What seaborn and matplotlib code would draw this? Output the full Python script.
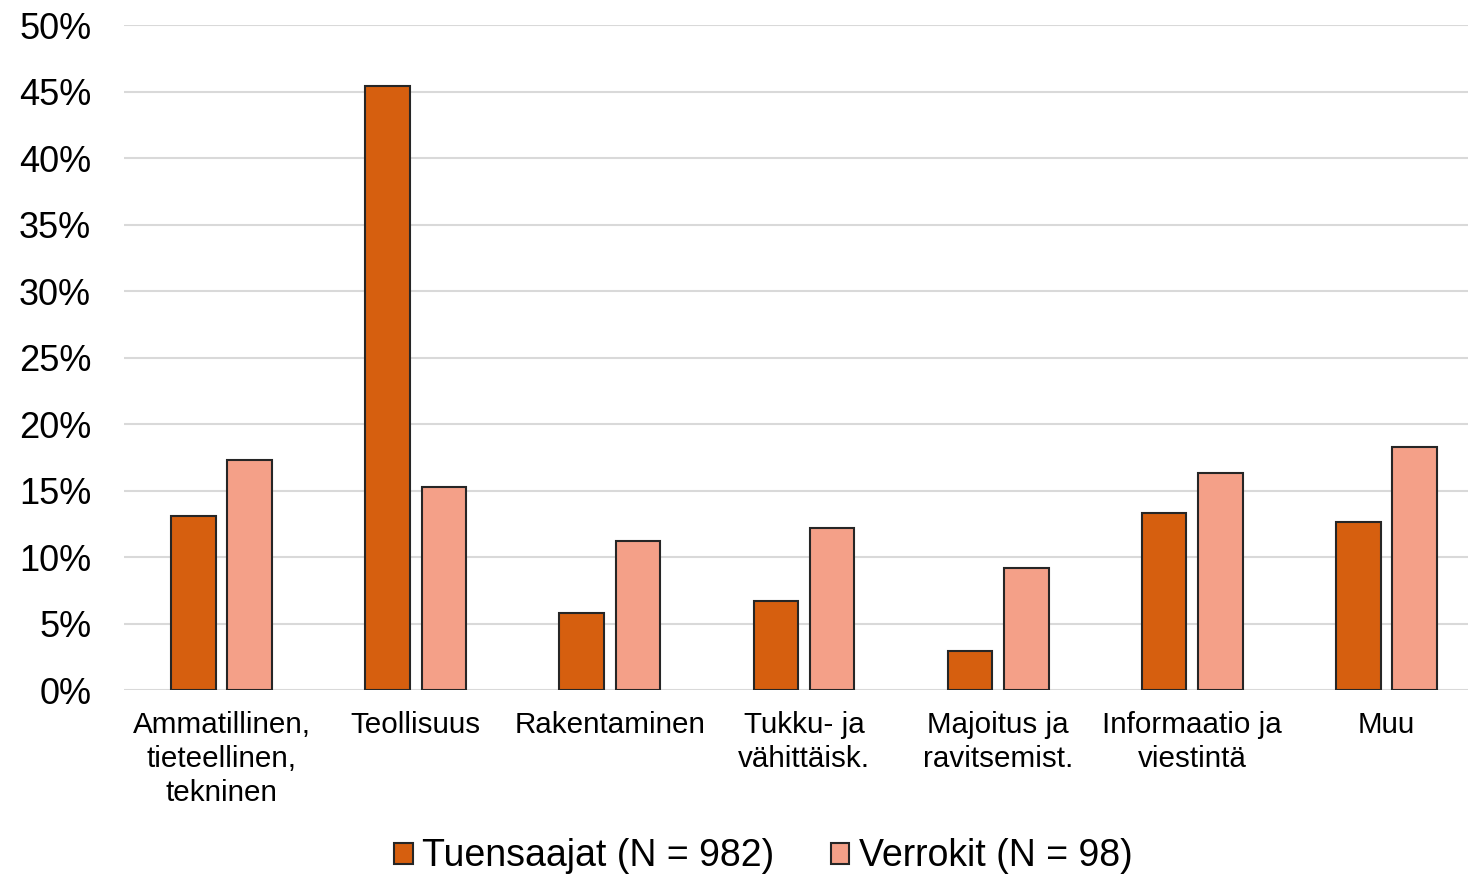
import matplotlib
matplotlib.use("Agg")
import matplotlib.pyplot as plt
from matplotlib.patches import Patch
from matplotlib.ticker import PercentFormatter
import seaborn as sns
import pandas as pd

categories = [
    "Ammatillinen,\ntieteellinen,\ntekninen",
    "Teollisuus",
    "Rakentaminen",
    "Tukku- ja\nvähittäisk.",
    "Majoitus ja\nravitsemist.",
    "Informaatio ja\nviestintä",
    "Muu",
]
series_names = ["Tuensaajat (N = 982)", "Verrokit (N = 98)"]
tuensaajat = [13.1, 45.4, 5.8, 6.7, 2.9, 13.3, 12.6]
verrokit = [17.3, 15.3, 11.2, 12.2, 9.2, 16.3, 18.3]
colors = ["#D65F0F", "#F4A088"]

df = pd.DataFrame({
    "category": categories * 2,
    "series": [series_names[0]] * len(categories) + [series_names[1]] * len(categories),
    "value": tuensaajat + verrokit,
})

sns.set_theme(style="white")
plt.rcParams["font.family"] = ["Liberation Sans", "DejaVu Sans"]
plt.rcParams["text.color"] = "black"

fig, ax = plt.subplots(figsize=(14.68, 8.75), dpi=100)
fig.subplots_adjust(left=0.0848, right=1.0, top=0.9714, bottom=0.2114)

sns.barplot(
    data=df, x="category", y="value", hue="series",
    palette=colors, saturation=1, width=0.58, gap=0.21,
    edgecolor="#262626", linewidth=1.5, ax=ax, legend=False,
)

ax.set_ylim(0, 50)
ax.set_xlim(-0.5, len(categories) - 0.58)
ax.set_yticks(range(0, 51, 5))
ax.yaxis.set_major_formatter(PercentFormatter(decimals=0))
ax.grid(axis="y", color="#D9D9D9", linewidth=1.5)
ax.set_axisbelow(True)
for s in ax.spines.values():
    s.set_visible(False)
ax.set_xlabel("")
ax.set_ylabel("")
ax.tick_params(axis="y", length=0, pad=24, labelsize=26, labelcolor="black")
ax.tick_params(axis="x", length=0, pad=15, labelsize=21.3, labelcolor="black")
for lbl in ax.get_xticklabels():
    lbl.set_linespacing(1.27)

handles = [Patch(facecolor=c, edgecolor="#262626", linewidth=1.5) for c in colors]
fig.legend(
    handles, series_names, loc="lower center", bbox_to_anchor=(0.52, -0.038),
    ncol=2, frameon=False, fontsize=27, handlelength=0.5, handleheight=0.5,
    handletextpad=0.25, columnspacing=1.5, labelcolor="black",
)

fig.savefig("out.png", dpi=100)
